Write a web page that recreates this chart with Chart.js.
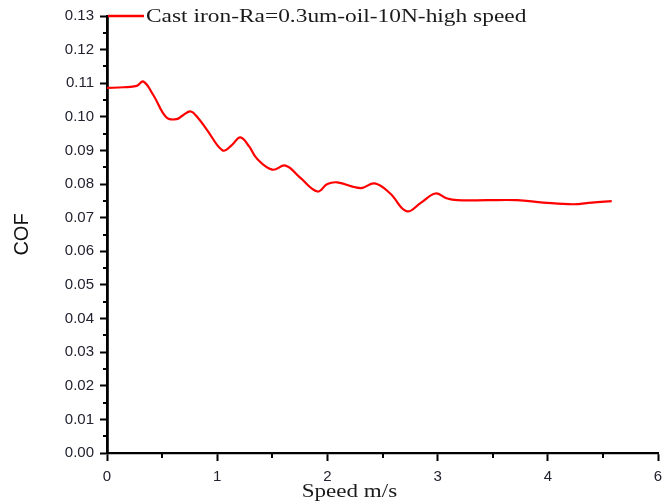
<!DOCTYPE html>
<html>
<head>
<meta charset="utf-8">
<script src="https://cdn.jsdelivr.net/npm/chart.js@4.4.0/dist/chart.umd.min.js"></script>
<style>
html,body{margin:0;padding:0;background:#fff;overflow:hidden;}
#wrap{width:680px;height:504px;}
</style>
</head>
<body>
<div id="wrap"><canvas id="cofGraph"></canvas></div>
<script>
var seriesName="Cast iron-Ra=0.3um-oil-10N-high speed";
var xTitle="Speed m/s";
var yTitle="COF";
var speedData=[0,0.15,0.27,0.33,0.42,0.54,0.63,0.69,0.76,0.83,0.91,1.05,1.13,1.21,1.29,1.36,1.50,1.62,1.75,1.91,2.00,2.09,2.30,2.43,2.57,2.72,2.85,2.98,3.08,3.18,3.45,3.72,3.96,4.23,4.40,4.58];
var cofData=[0.1086,0.1088,0.1092,0.1105,0.1065,0.0998,0.0993,0.1005,0.1016,0.0995,0.0960,0.0900,0.0915,0.0939,0.0912,0.0876,0.0843,0.0855,0.0820,0.0778,0.0800,0.0805,0.0788,0.0802,0.0772,0.0719,0.0745,0.0772,0.0758,0.0752,0.0752,0.0752,0.0745,0.0740,0.0745,0.0749];
var xTickValues=[0,1,2,3,4,5];
var xTickLabels=["0","1","2","3","4","6"];
var yMinorTicks=[0.005,0.015,0.025,0.035,0.045,0.055,0.065,0.075,0.085,0.095,0.105,0.115,0.125];
var xMinorTicks=[0.5,1.5,2.5,3.5,4.5];

var points=[];
$each=function(arr,fn){for(var i=0;i<arr.length;i++){fn(i,arr[i]);}};
$each(speedData,function(i,s){points.push({x:s,y:cofData[i]});});

var extras={
	id:"extras",
	afterDraw:function(chart){
		var ctx=chart.ctx;
		var ca=chart.chartArea;
		var xs=chart.scales.x, ys=chart.scales.y;
		ctx.save();
		// minor ticks
		ctx.strokeStyle="#000";
		ctx.lineWidth=2;
		ctx.beginPath();
		$each(yMinorTicks,function(i,v){
			var py=Math.round(ys.getPixelForValue(v));
			ctx.moveTo(ca.left-4,py);ctx.lineTo(ca.left,py);
		});
		$each(xMinorTicks,function(i,v){
			var px=Math.round(xs.getPixelForValue(v));
			ctx.moveTo(px,ca.bottom);ctx.lineTo(px,ca.bottom+5);
		});
		ctx.stroke();
		// legend
		var ds=chart.data.datasets[0];
		ctx.strokeStyle=ds.borderColor;
		ctx.lineWidth=2.5;
		ctx.beginPath();
		ctx.moveTo(ca.left+1,ca.top);ctx.lineTo(ca.left+37,ca.top);
		ctx.stroke();
		ctx.fillStyle="#1a1a1a";
		ctx.font='18px "Liberation Serif", "Times New Roman", serif';
		ctx.textBaseline="alphabetic";
		ctx.textAlign="left";
		ctx.save();
		ctx.translate(ca.left+39,ca.top+6);
		ctx.scale(1.3,1);
		ctx.fillText(ds.label,0,0);
		ctx.restore();
		// x title
		ctx.save();
		ctx.translate(ca.left+ca.width*0.44,497);
		ctx.scale(1.28,1);
		ctx.textAlign="center";
		ctx.fillText(xTitle,0,0);
		ctx.restore();
		ctx.restore();
	}
};

var ctx1=document.getElementById("cofGraph").getContext("2d");
var cofChart=new Chart(ctx1,{
	type:"line",
	data:{
		datasets:[{
			label:seriesName,
			data:points,
			borderColor:"#ff0000",
			borderWidth:2.2,
			pointRadius:0,
			fill:false,
			tension:0.4
		}]
	},
	options:{
		responsive:true,
		maintainAspectRatio:false,
		animation:false,
		devicePixelRatio:1,
		layout:{padding:{top:16,right:22,left:0,bottom:0}},
		plugins:{legend:{display:false},tooltip:{enabled:false}},
		scales:{
			x:{
				type:"linear",
				min:0,max:5,
				afterFit:function(scale){scale.height=51;},
				afterBuildTicks:function(scale){scale.ticks=xTickValues.map(function(v){return {value:v};});},
				ticks:{
					padding:7,
					color:"#222230",
					font:{family:'"Liberation Sans", Arial, sans-serif',size:15},
					maxRotation:0,
					callback:function(value){var i=xTickValues.indexOf(value);return i<0?"":xTickLabels[i];}
				},
				grid:{drawOnChartArea:false,drawTicks:true,tickLength:8,tickColor:"#000",tickWidth:2},
				border:{display:true,color:"#000",width:2.2}
			},
			y:{
				min:0,max:0.13,
				afterFit:function(scale){scale.width=107;},
				ticks:{
					stepSize:0.01,
					padding:6,
					color:"#222230",
					font:{family:'"Liberation Sans", Arial, sans-serif',size:15},
					callback:function(value){return value.toFixed(2);}
				},
				title:{
					display:true,
					text:yTitle,
					color:"#111",
					font:{family:'"Liberation Sans", Arial, sans-serif',size:20},
					padding:{top:10,bottom:0}
				},
				grid:{drawOnChartArea:false,drawTicks:true,tickLength:7,tickColor:"#000",tickWidth:2},
				border:{display:true,color:"#000",width:2.8}
			}
		}
	},
	plugins:[extras]
});
</script>
</body>
</html>
